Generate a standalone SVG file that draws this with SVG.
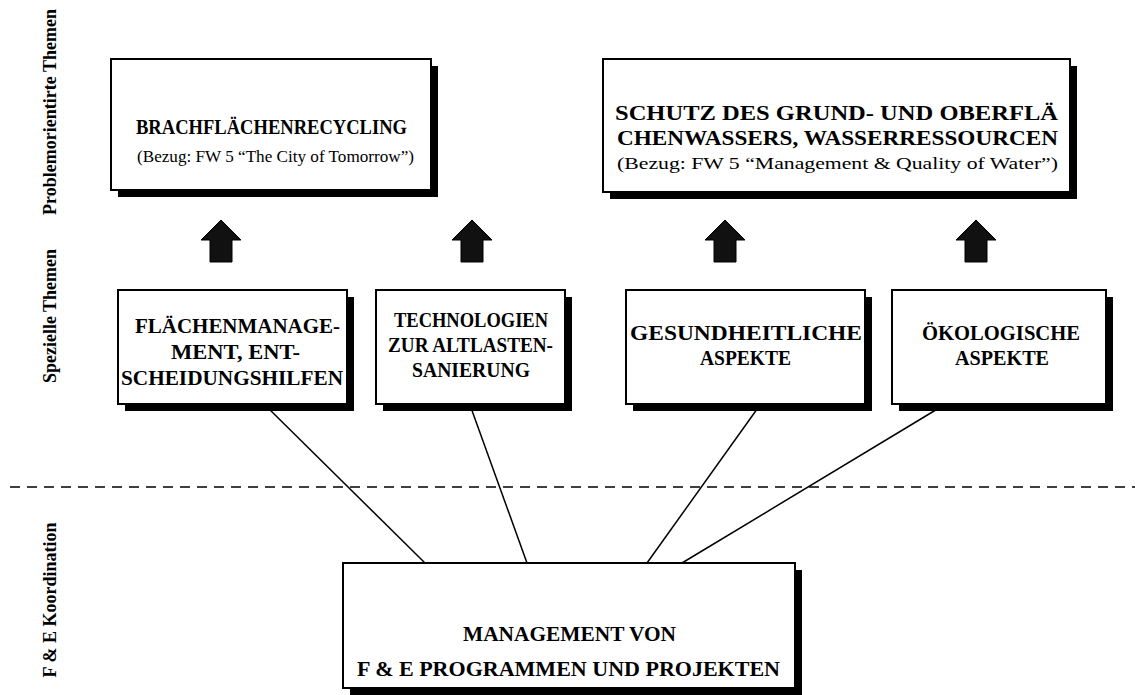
<svg xmlns="http://www.w3.org/2000/svg" width="1135" height="695" viewBox="0 0 1135 695">
<defs>
<style>
.box{fill:#fff;stroke:#000;stroke-width:2}
.sh{fill:#000}
.t{font-family:"Liberation Serif","Times New Roman",serif;font-weight:bold;font-size:21px;fill:#000}
.s{font-family:"Liberation Serif","Times New Roman",serif;font-size:16px;fill:#000}
.v{font-family:"Liberation Serif","Times New Roman",serif;font-weight:bold;font-size:18px;fill:#000;text-anchor:middle}
.ln{stroke:#000;stroke-width:1.5;fill:none}
.arr{fill:#111;stroke:#000;stroke-width:1}
</style>
<path id="up" class="arr" d="M0,0 L20,20 L11,20 L11,42 L-11,42 L-11,20 L-20,20 Z"/>
</defs>
<rect width="1135" height="695" fill="#fff"/>

<g id="labels">
<text class="v" transform="translate(56,112) rotate(-90)">Problemorientirte Themen</text>
<text class="v" transform="translate(56,316) rotate(-90)">Spezielle Themen</text>
<text class="v" transform="translate(56,600) rotate(-90)">F &amp; E Koordination</text>
</g>

<line x1="10" y1="487" x2="1135" y2="487" stroke="#000" stroke-width="1.5" stroke-dasharray="10,7"/>

<g id="connectors">
<line class="ln" x1="265" y1="405" x2="425" y2="563"/>
<line class="ln" x1="470" y1="405" x2="527" y2="563"/>
<line class="ln" x1="760" y1="405" x2="647" y2="563"/>
<line class="ln" x1="944" y1="405" x2="682" y2="563"/>
<use href="#up" x="221" y="220"/>
<use href="#up" x="472" y="220"/>
<use href="#up" x="725" y="220"/>
<use href="#up" x="976" y="220"/>
</g>

<g id="brachflaechen">
<rect class="sh" x="118" y="66" width="320" height="131"/>
<rect class="box" x="111" y="59" width="320" height="131"/>
<text class="t" x="136" y="134" textLength="271" lengthAdjust="spacingAndGlyphs">BRACHFLÄCHENRECYCLING</text>
<text class="s" x="137" y="162" textLength="277" lengthAdjust="spacingAndGlyphs">(Bezug:  FW 5 “The City of Tomorrow”)</text>
</g>

<g id="grundwasser">
<rect class="sh" x="610" y="66" width="467" height="133"/>
<rect class="box" x="603" y="59" width="467" height="133"/>
<text class="t" x="615" y="120" textLength="443" lengthAdjust="spacingAndGlyphs">SCHUTZ DES GRUND- UND OBERFLÄ</text>
<text class="t" x="617" y="145" textLength="441" lengthAdjust="spacingAndGlyphs">CHENWASSERS, WASSERRESSOURCEN</text>
<text class="s" x="617" y="169" textLength="441" lengthAdjust="spacingAndGlyphs">(Bezug: FW 5 “Management &amp; Quality of Water”)</text>
</g>

<g id="flaechenmanagement">
<rect class="sh" x="125" y="297" width="229" height="114"/>
<rect class="box" x="118" y="290" width="229" height="114"/>
<text class="t" x="135" y="333" textLength="205" lengthAdjust="spacingAndGlyphs">FLÄCHENMANAGE-</text>
<text class="t" x="171" y="359" textLength="129" lengthAdjust="spacingAndGlyphs">MENT, ENT-</text>
<text class="t" x="121" y="385" textLength="222" lengthAdjust="spacingAndGlyphs">SCHEIDUNGSHILFEN</text>
</g>

<g id="technologien">
<rect class="sh" x="383" y="297" width="189" height="114"/>
<rect class="box" x="376" y="290" width="189" height="114"/>
<text class="t" x="394" y="327" textLength="154" lengthAdjust="spacingAndGlyphs">TECHNOLOGIEN</text>
<text class="t" x="388" y="352" textLength="165" lengthAdjust="spacingAndGlyphs">ZUR ALTLASTEN-</text>
<text class="t" x="412" y="377" textLength="118" lengthAdjust="spacingAndGlyphs">SANIERUNG</text>
</g>

<g id="gesundheit">
<rect class="sh" x="633" y="297" width="239" height="114"/>
<rect class="box" x="626" y="290" width="239" height="114"/>
<text class="t" x="630" y="340" textLength="232" lengthAdjust="spacingAndGlyphs">GESUNDHEITLICHE</text>
<text class="t" x="700" y="365" textLength="91" lengthAdjust="spacingAndGlyphs">ASPEKTE</text>
</g>

<g id="oekologie">
<rect class="sh" x="899" y="297" width="214" height="114"/>
<rect class="box" x="892" y="290" width="214" height="114"/>
<text class="t" x="922" y="340" textLength="158" lengthAdjust="spacingAndGlyphs">ÖKOLOGISCHE</text>
<text class="t" x="955" y="365" textLength="94" lengthAdjust="spacingAndGlyphs">ASPEKTE</text>
</g>

<g id="management">
<rect class="sh" x="350" y="570" width="452" height="125"/>
<rect class="box" x="343" y="563" width="452" height="125"/>
<text class="t" x="463" y="641" textLength="213" lengthAdjust="spacingAndGlyphs">MANAGEMENT VON</text>
<text class="t" x="357" y="676" textLength="423" lengthAdjust="spacingAndGlyphs">F &amp; E PROGRAMMEN UND PROJEKTEN</text>
</g>
</svg>
